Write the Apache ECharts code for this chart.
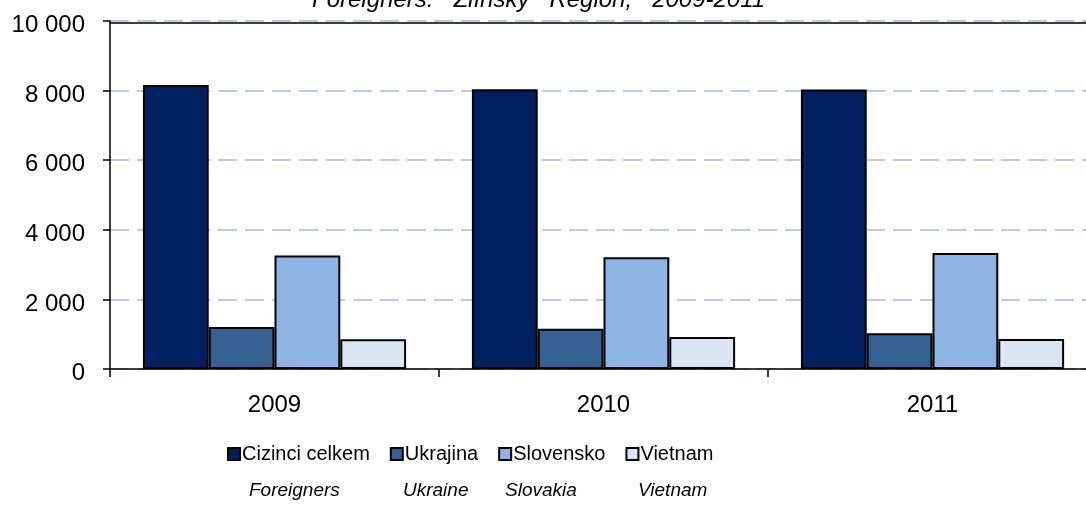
<!DOCTYPE html>
<html>
<head>
<meta charset="utf-8">
<script src="https://cdn.jsdelivr.net/npm/echarts@6/dist/echarts.min.js"></script>
<style>
  html, body { margin: 0; padding: 0; background: #fff; }
  #chart { width: 1086px; height: 508px; }
</style>
</head>
<body>
<div id="chart"></div>
<script>
// data
const years = ['2009', '2010', '2011']
const cizinci = [8160, 8040, 8035]
const ukrajina = [1210, 1160, 1025]
const slovensko = [3265, 3210, 3330]
const vietnam = [855, 920, 860]
const seriesNames = ['Cizinci celkem', 'Ukrajina', 'Slovensko', 'Vietnam']
const englishNames = ['Foreigners', 'Ukraine', 'Slovakia', 'Vietnam']
const colors = ['#002060', '#376092', '#8EB4E3', '#DCE6F2']
const titleText = 'Foreigners:   Zlínský   Region,   2009-2011'

const fontFamily = '"Liberation Sans", Arial, sans-serif'

const chart = echarts.init(document.getElementById('chart'))

// 10 000 style labels
const fmt = v => String(v).replace(/\B(?=(\d{3})+(?!\d))/g, ' ')

const makeBar = (name, data, i) => ({
  name,
  type: 'bar',
  data,
  barGap: '0%',
  barCategoryGap: '20%',
  itemStyle: {
    color: colors[i],
    borderColor: '#000',
    borderWidth: 2
  }
})

const englishX = [249, 403, 505, 638]

const option = {
  animation: false,
  textStyle: { fontFamily },
  grid: { left: 110, top: 21, width: 987, height: 348, outerBoundsMode: 'none' },
  legend: {
    data: seriesNames,
    left: 222,
    top: 439,
    itemGap: 20,
    itemWidth: 12,
    itemHeight: 12,
    icon: 'rect',
    textStyle: { fontSize: 20, color: '#000', fontFamily, padding: [0, 0, 0, -3] }
  },
  graphic: [
    {
      type: 'text',
      left: 312,
      top: -12,
      style: { text: titleText, font: 'italic 24px ' + fontFamily, fill: '#000' }
    },
    ...englishNames.map((t, i) => ({
      type: 'text',
      left: englishX[i],
      top: 481,
      style: { text: t, font: 'italic 19px ' + fontFamily, fill: '#000' }
    }))
  ],
  xAxis: [
    {
      type: 'category',
      data: years,
      axisLine: { lineStyle: { color: '#000', width: 1.5 } },
      axisTick: { show: true, length: 8, lineStyle: { color: '#000', width: 1.5 } },
      axisLabel: { fontSize: 24, color: '#000', margin: 24 }
    },
    {
      type: 'category',
      data: years,
      position: 'top',
      offset: -1.5,
      axisLine: { show: true, lineStyle: { color: '#000', width: 1.5 } },
      axisTick: { show: false },
      axisLabel: { show: false }
    }
  ],
  yAxis: {
    type: 'value',
    min: 0,
    max: 10000,
    interval: 2000,
    axisLine: { show: true, lineStyle: { color: '#000', width: 1.5 } },
    axisTick: { show: true, length: 7, lineStyle: { color: '#000', width: 1.5 } },
    axisLabel: { fontSize: 24, color: '#000', margin: 25, formatter: fmt, verticalAlign: 'top', lineHeight: 9 },
    splitLine: { lineStyle: { color: '#B9CDE5', width: 2, type: [19, 8] } }
  },
  series: [
    makeBar(seriesNames[0], cizinci, 0),
    makeBar(seriesNames[1], ukrajina, 1),
    makeBar(seriesNames[2], slovensko, 2),
    makeBar(seriesNames[3], vietnam, 3)
  ]
}

chart.setOption(option)
</script>
</body>
</html>
